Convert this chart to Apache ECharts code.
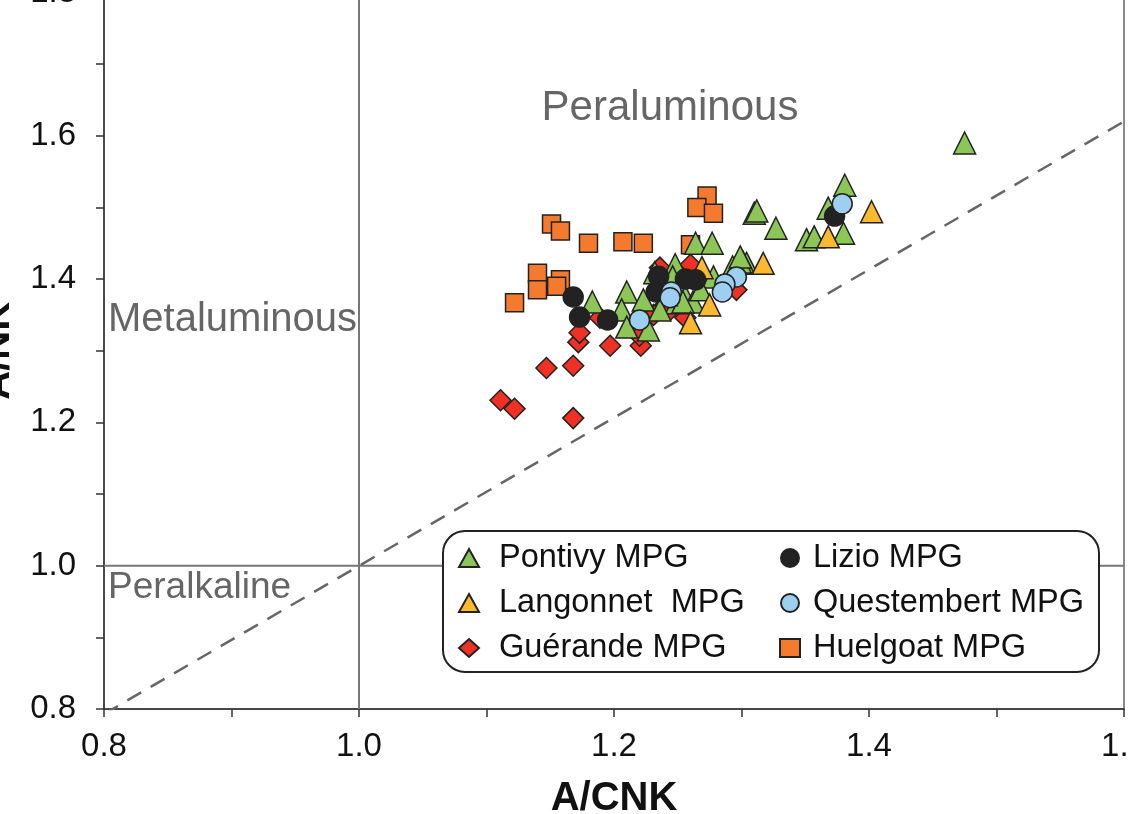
<!DOCTYPE html>
<html>
<head>
<meta charset="utf-8">
<script src="https://cdn.jsdelivr.net/npm/echarts@6/dist/echarts.min.js"></script>
<style>
  html, body { margin: 0; padding: 0; background: #fff; }
  #chart { width: 1128px; height: 814px; }
</style>
</head>
<body>
<div id="chart"></div>
<script>
// A/CNK vs A/NK values
const pontivy = [
  [1.475, 1.590], [1.381, 1.531], [1.368, 1.499], [1.380, 1.464], [1.351, 1.455],
  [1.357, 1.459], [1.327, 1.471], [1.310, 1.492], [1.312, 1.495], [1.264, 1.450],
  [1.277, 1.450], [1.304, 1.422], [1.301, 1.424], [1.299, 1.424], [1.293, 1.417],
  [1.278, 1.403], [1.183, 1.368], [1.210, 1.382], [1.206, 1.357], [1.210, 1.333],
  [1.223, 1.371], [1.227, 1.329], [1.232, 1.409], [1.248, 1.420], [1.246, 1.403],
  [1.249, 1.367], [1.256, 1.375], [1.262, 1.368], [1.254, 1.368], [1.299, 1.431],
  [1.241, 1.378], [1.236, 1.357], [1.268, 1.385]
];
const langonnet = [
  [1.402, 1.494], [1.368, 1.459], [1.317, 1.422], [1.275, 1.364], [1.260, 1.339],
  [1.269, 1.416]
];
const guerande = [
  [1.111, 1.231], [1.122, 1.219], [1.147, 1.276], [1.168, 1.279], [1.168, 1.206],
  [1.197, 1.307], [1.221, 1.307], [1.172, 1.312], [1.173, 1.325], [1.189, 1.346],
  [1.220, 1.321], [1.231, 1.350], [1.238, 1.360], [1.256, 1.346], [1.260, 1.420],
  [1.236, 1.416], [1.296, 1.385], [1.244, 1.357]
];
const lizio = [
  [1.373, 1.488], [1.168, 1.375], [1.173, 1.347], [1.195, 1.343], [1.235, 1.404],
  [1.233, 1.382], [1.256, 1.400], [1.264, 1.399]
];
const questembert = [
  [1.379, 1.505], [1.296, 1.403], [1.287, 1.393], [1.285, 1.382], [1.245, 1.382],
  [1.244, 1.374], [1.220, 1.343]
];
const huelgoat = [
  [1.151, 1.477], [1.158, 1.467], [1.180, 1.450], [1.207, 1.452], [1.223, 1.450],
  [1.273, 1.516], [1.265, 1.500], [1.278, 1.492], [1.260, 1.448], [1.140, 1.408],
  [1.140, 1.385], [1.158, 1.399], [1.155, 1.390], [1.122, 1.367]
];

// divider lines
const metaBoundary = [[1.0, 0.8], [1.0, 1.8]];
const alkBoundary = [[0.8, 1.0], [1.6, 1.0]];
const diagLine = [[0.8, 0.793], [1.6, 1.62]];

const legendLeft = ['Pontivy MPG', 'Langonnet  MPG', 'Guérande MPG'];
const legendRight = ['Lizio MPG', 'Questembert MPG', 'Huelgoat MPG'];

const chart = echarts.init(document.getElementById('chart'));

const tickLabel = v => (Math.round(v * 10) % 2 === 0 ? v.toFixed(1) : '');
const border = { borderColor: '#222', borderWidth: 1.5 };

const scatter = (name, data, symbol, size, color) => ({
  name: name,
  type: 'scatter',
  data: data,
  symbol: symbol,
  symbolSize: size,
  itemStyle: Object.assign({ color: color, opacity: 1 }, border),
  emphasis: { disabled: true }
});

const refLine = (data, style) => ({
  type: 'line',
  data: data,
  showSymbol: false,
  silent: true,
  z: 1,
  lineStyle: style
});

chart.setOption({
  animation: false,
  grid: {
    left: 104, right: 4, top: -7.5, bottom: 105,
    outerBoundsMode: 'none', containLabel: false,
    show: true, borderColor: '#666', borderWidth: 1.5
  },
  xAxis: {
    type: 'value', min: 0.8, max: 1.6, interval: 0.1,
    name: 'A/CNK', nameLocation: 'middle', nameGap: 70,
    nameTextStyle: { fontFamily: 'Liberation Sans', fontSize: 40, fontWeight: 'bold', color: '#111' },
    axisLine: { lineStyle: { color: '#333', width: 1.5 } },
    axisTick: { length: 8, lineStyle: { color: '#333', width: 1.5 } },
    axisLabel: { formatter: tickLabel, margin: 21, fontFamily: 'Liberation Sans', fontSize: 33, color: '#111' },
    splitLine: { show: false }
  },
  yAxis: {
    type: 'value', min: 0.8, max: 1.8, interval: 0.1,
    name: 'A/NK', nameLocation: 'middle', nameGap: 86, nameRotate: 90,
    nameTextStyle: { fontFamily: 'Liberation Sans', fontSize: 40, fontWeight: 'bold', color: '#111' },
    axisLine: { lineStyle: { color: '#333', width: 1.5 } },
    axisTick: { length: 8, lineStyle: { color: '#333', width: 1.5 } },
    axisLabel: { formatter: tickLabel, margin: 28, fontFamily: 'Liberation Sans', fontSize: 33, color: '#111' },
    splitLine: { show: false }
  },
  legend: [
    {
      data: legendLeft, orient: 'vertical', left: 453, top: 535, z: 110,
      itemWidth: 20, itemHeight: 18, itemGap: 9,
      textStyle: { fontFamily: 'Liberation Sans', fontSize: 32.5, color: '#111', lineHeight: 36, padding: [0, 0, 0, 15] }
    },
    {
      data: legendRight, orient: 'vertical', left: 774, top: 535, z: 110,
      itemWidth: 20, itemHeight: 18, itemGap: 9,
      textStyle: { fontFamily: 'Liberation Sans', fontSize: 32.5, color: '#111', lineHeight: 36, padding: [0, 0, 0, 8] }
    }
  ],
  graphic: [
    {
      type: 'rect', z: 100,
      shape: { x: 443, y: 531, width: 656, height: 141, r: 22 },
      style: { fill: '#fff', stroke: '#222', lineWidth: 2 }
    },
    {
      type: 'text', z: 50,
      style: { x: 670, y: 108, text: 'Peraluminous', font: '42px "Liberation Sans"', fill: '#666', align: 'center', verticalAlign: 'middle' }
    },
    {
      type: 'text', z: 50,
      style: { x: 108, y: 320, text: 'Metaluminous', font: '40px "Liberation Sans"', fill: '#666', align: 'left', verticalAlign: 'middle' }
    },
    {
      type: 'text', z: 50,
      style: { x: 108, y: 588, text: 'Peralkaline', font: '37px "Liberation Sans"', fill: '#666', align: 'left', verticalAlign: 'middle' }
    }
  ],
  series: [
    refLine(metaBoundary, { color: '#777', width: 2 }),
    refLine(alkBoundary, { color: '#777', width: 2 }),
    refLine(diagLine, { color: '#666', width: 2.5, type: [16, 11] }),
    scatter('Huelgoat MPG', huelgoat, 'rect', 18, '#F47A2E'),
    scatter('Guérande MPG', guerande, 'diamond', 21, '#EE3124'),
    scatter('Pontivy MPG', pontivy, 'triangle', 22, '#8CC657'),
    scatter('Langonnet  MPG', langonnet, 'triangle', 22, '#FBB92E'),
    scatter('Lizio MPG', lizio, 'circle', 20, '#222'),
    scatter('Questembert MPG', questembert, 'circle', 20, '#9DD0F0')
  ]
});
</script>
</body>
</html>
